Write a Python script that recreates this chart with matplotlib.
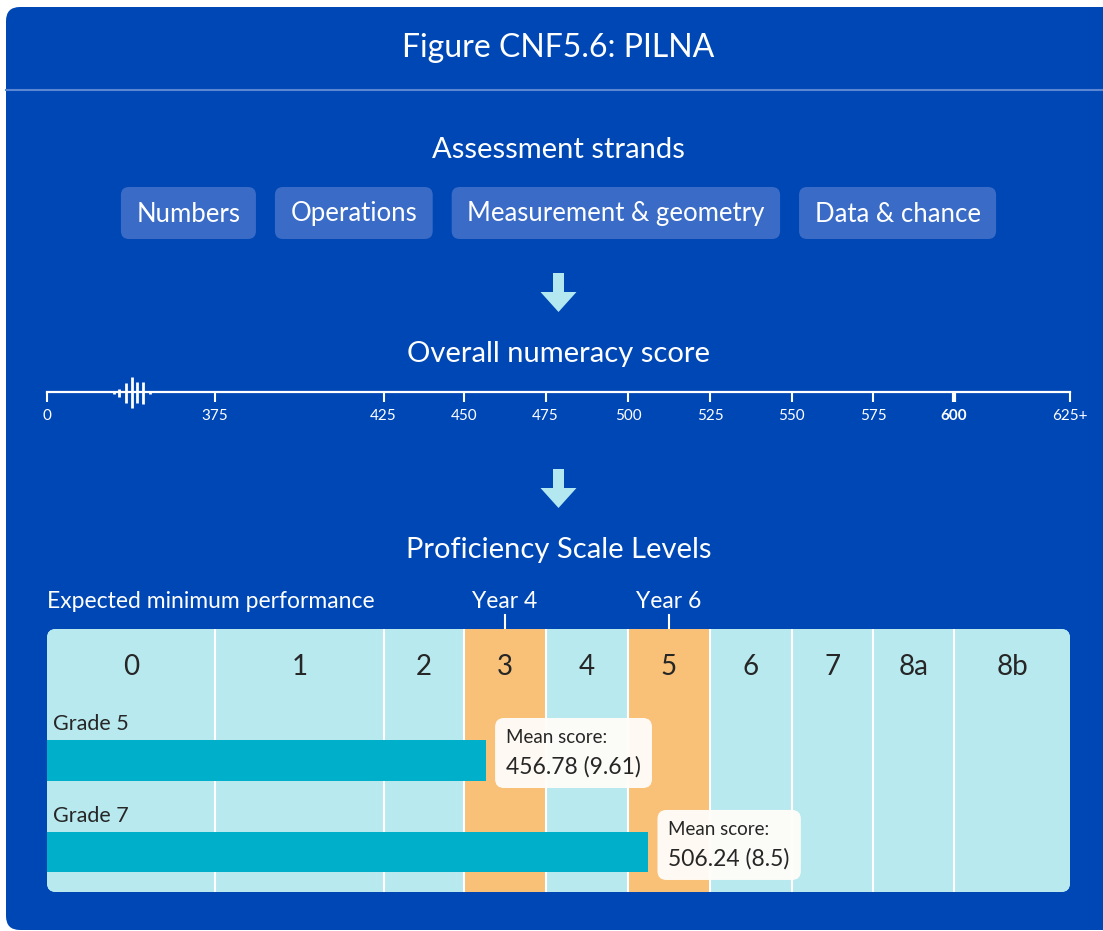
import numpy as np
import matplotlib
matplotlib.use('Agg')
import matplotlib.pyplot as plt
from matplotlib.patches import FancyBboxPatch, FancyArrow

plt.rcParams['font.family'] = ['Lato', 'DejaVu Sans']

W, H = 1103, 931

# ---- data ----
title = 'Figure CNF5.6: PILNA'
strands = ['Numbers', 'Operations', 'Measurement & geometry', 'Data & chance']
scale_scores = [0, 375, 425, 450, 475, 500, 525, 550, 575, 600, 625]
scale_labels = ['0', '375', '425', '450', '475', '500', '525', '550', '575', '600', '625+']
level_names = ['0', '1', '2', '3', '4', '5', '6', '7', '8a', '8b']
expected_years = ['Year 4', 'Year 6']
expected_levels = ['3', '5']
grades = ['Grade 5', 'Grade 7']
mean_scores = [456.78, 506.24]
mean_se = ['9.61', '8.5']

# ---- layout / style ----
scale_px = [47, 215, 383.5, 464, 545.5, 628, 710, 791.5, 873, 954, 1070]
BLUE = '#0047b6'
BOX_BLUE = '#3a6cc7'
LINE_BLUE = '#5a86d2'
ARROW = '#b4e8f0'
LIGHT = '#b8e9ef'
ORANGE = '#f9c077'
BAR = '#00b0cb'
DARK = '#262626'


def fwd(s):
    return np.interp(s, scale_scores, scale_px)


def inv(p):
    return np.interp(p, scale_px, scale_scores)


def rect(x0, y0, x1, y1):
    return [x0 / W, 1 - y1 / H, (x1 - x0) / W, (y1 - y0) / H]


def pixel_axes(z):
    a = fig.add_axes([0, 0, 1, 1])
    a.set_xlim(0, W)
    a.set_ylim(H, 0)
    a.axis('off')
    a.set_zorder(z)
    return a


fig = plt.figure(figsize=(W / 100, H / 100), dpi=100, facecolor='white')
ax = pixel_axes(0)
renderer = fig.canvas.get_renderer()


def to_bg(a, x, y):
    dx, dy = a.transData.transform((x, y))
    return dx, H - dy


# outer panel
ax.add_patch(FancyBboxPatch((6, 7), 1115, 923, boxstyle='round,pad=0,rounding_size=14',
                            fc=BLUE, ec='none'))
ax.text(558.5, 48, title, color='white', fontsize=23, ha='center', va='center')
ax.plot([6, W], [89.5, 89.5], color=LINE_BLUE, lw=1.5)

# assessment strands
ax.text(558.5, 150, 'Assessment strands', color='white', fontsize=21, ha='center', va='center')
labels = [ax.text(0, 214, s, color='white', fontsize=18.5, ha='center', va='center', zorder=3)
          for s in strands]
widths = [t.get_window_extent(renderer).width + 31 for t in labels]
gap = 19
x = 558.5 - (sum(widths) + gap * (len(widths) - 1)) / 2
for t, w in zip(labels, widths):
    ax.add_patch(FancyBboxPatch((x, 187), w, 52, boxstyle='round,pad=0,rounding_size=8',
                                fc=BOX_BLUE, ec='none', zorder=2))
    t.set_x(x + w / 2)
    x += w + gap

for y0 in (273, 469):
    ax.add_patch(FancyArrow(558.5, y0, 0, 39, width=11, head_width=36, head_length=20,
                            length_includes_head=True, fc=ARROW, ec='none'))

# overall numeracy score axis
ax.text(558.5, 354, 'Overall numeracy score', color='white', fontsize=21, ha='center', va='center')
ax_s = fig.add_axes(rect(scale_px[0], 370, scale_px[-1], 392))
ax_s.set_xscale('function', functions=(fwd, inv))
ax_s.set_xlim(scale_scores[0], scale_scores[-1])
ax_s.patch.set_visible(False)
for side in ('top', 'left', 'right'):
    ax_s.spines[side].set_visible(False)
ax_s.spines['bottom'].set_color('white')
ax_s.spines['bottom'].set_linewidth(1.6)
ax_s.set_yticks([])
ax_s.set_xticks(scale_scores)
ax_s.set_xticklabels(scale_labels)
ax_s.tick_params(axis='x', colors='white', length=7.5, width=1.5, pad=5, labelsize=11)
ax_s.xaxis.set_minor_locator(matplotlib.ticker.NullLocator())
i600 = scale_labels.index('600')
ax_s.get_xticklabels()[i600].set_fontweight('bold')
ax_s.xaxis.get_major_ticks()[i600].tick1line.set_markeredgewidth(3)

# axis break squiggle
brk_x = [114, 119, 126, 132, 137, 143, 150]
brk_h = [1.5, 4, 10, 15.5, 10.5, 11, 1.5]
ax.vlines(brk_x, [392.5 - h for h in brk_h], [392.5 + h for h in brk_h], color='white', lw=2)

# proficiency scale levels
ax.text(558.5, 550, 'Proficiency Scale Levels', color='white', fontsize=21, ha='center', va='center')
ax.text(47, 601, 'Expected minimum performance', color='white', fontsize=16.5, ha='left', va='center')

panel = FancyBboxPatch((47, 629), 1023, 263, boxstyle='round,pad=0,rounding_size=9',
                       fc=LIGHT, ec='none')
ax.add_patch(panel)

ax_l = fig.add_axes(rect(scale_px[0], 629, scale_px[-1], 892))
ax_l.set_xscale('function', functions=(fwd, inv))
ax_l.axis('off')
ax_l.patch.set_visible(False)
ax_l.set_zorder(1)

for i, name in enumerate(level_names):
    a, b = scale_scores[i], scale_scores[i + 1]
    col = ORANGE if name in expected_levels else LIGHT
    sp = ax_l.axvspan(a, b, color=col, lw=0, zorder=0)
    sp.set_clip_path(panel)
for b in scale_scores[1:-1]:
    ax_l.axvline(b, color='white', lw=1.5, zorder=1)

ax_l.barh(range(len(grades)), mean_scores, left=scale_scores[0], height=0.435, color=BAR, zorder=2)
ax_l.set_xlim(scale_scores[0], scale_scores[-1])
ax_l.set_ylim(1.43, -1.43)

for i, name in enumerate(level_names):
    mid = inv((fwd(scale_scores[i]) + fwd(scale_scores[i + 1])) / 2)
    ax_l.text(mid, -1.02, name, color=DARK, fontsize=20, ha='center', va='center', zorder=3)

for yr, lvl in zip(expected_years, expected_levels):
    i = level_names.index(lvl)
    mid = inv((fwd(scale_scores[i]) + fwd(scale_scores[i + 1])) / 2)
    cx, _ = to_bg(ax_l, mid, 0)
    ax.text(cx, 601, yr, color='white', fontsize=16.5, ha='center', va='center')
    ax.plot([cx, cx], [615, 629], color='white', lw=1.5)

# labels and callouts above the level axes
ax_top = pixel_axes(2)
for i, g in enumerate(grades):
    gx, gy = to_bg(ax_l, scale_scores[0], i - 0.41)
    ax_top.text(gx + 6, gy + 1, g, color=DARK, fontsize=15.5, ha='left', va='center', zorder=5)
    ex, cy = to_bg(ax_l, mean_scores[i], i)
    bx = ex + 9
    t1 = ax_top.text(bx + 11, cy - 23, 'Mean score:', color=DARK, fontsize=13.5,
                     ha='left', va='center', zorder=6)
    t2 = ax_top.text(bx + 11, cy + 6.5, f'{mean_scores[i]:.2f} ({mean_se[i]})',
                     color=DARK, fontsize=16.5, ha='left', va='center', zorder=6)
    tw = max(t1.get_window_extent(renderer).width, t2.get_window_extent(renderer).width)
    ax_top.add_patch(FancyBboxPatch((bx, cy - 42.5), tw + 22, 70,
                                    boxstyle='round,pad=0,rounding_size=9',
                                    fc='#fffdf9', ec='none', alpha=0.96, zorder=5))

fig.savefig('out.png', dpi=100, facecolor='white')
